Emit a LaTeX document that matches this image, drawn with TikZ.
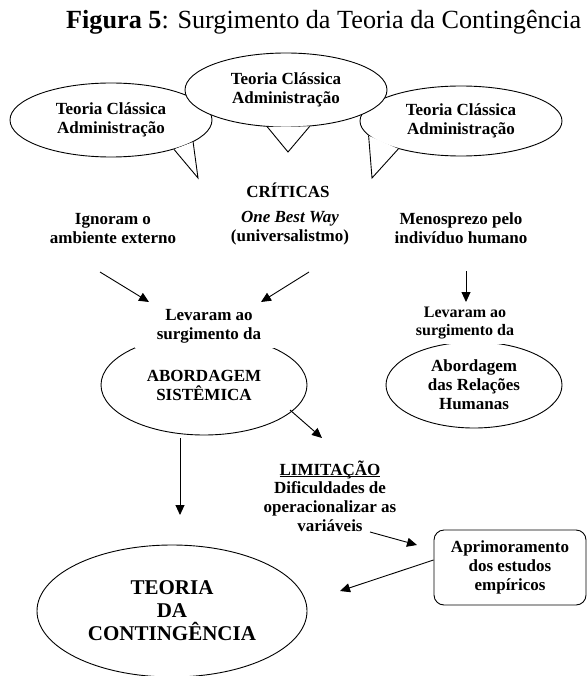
\documentclass[tikz,border=0pt]{standalone}
\usepackage{fontspec}
\setmainfont{Liberation Serif}
\usetikzlibrary{arrows.meta,shapes.geometric}
\newcommand\myul[1]{\setbox0\hbox{#1}\rlap{\rule[-2.2pt]{\wd0}{0.9pt}}\box0}
\begin{document}
\begin{tikzpicture}[x=1pt,y=-1pt,
  txt/.style={font=\fontsize{17}{19}\selectfont\bfseries, align=center, inner sep=0pt},
  oval/.style={ellipse, draw, fill=white, line width=0.9pt, inner sep=0pt, align=center,
               font=\fontsize{17}{19}\selectfont\bfseries},
  tailfill/.style={fill=white},
  tailline/.style={line width=0.9pt, line join=miter},
  arr/.style={-{Triangle[length=10pt,width=9pt]}, line width=0.9pt},
]
\fill[white] (0,0) rectangle (587,676);
\useasboundingbox (0,0) rectangle (587,676);

% title
\node[anchor=base west, inner sep=0pt, font=\fontsize{26.2}{30}\selectfont] (title) at (66,29)
  {\textbf{Figura 5}: Surgimento da Teoria da Contingência};

% speech bubbles
\node[oval, minimum width=202, minimum height=74] (bl) at (111,120) {Teoria Clássica\\Administração};
\coordinate (tipl) at (198,178);
\fill[tailfill] (bl.-25) -- (tipl) -- (bl.-15) -- cycle;
\draw[tailline] (bl.-25) -- (tipl) -- (bl.-15);

\node[oval, minimum width=202, minimum height=70] (br) at (461,121) {Teoria Clássica\\Administração};
\coordinate (tipr) at (372,178);
\fill[tailfill] (br.-156) -- (tipr) -- (br.-171) -- cycle;
\draw[tailline] (br.-156) -- (tipr) -- (br.-171);

\node[oval, minimum width=202, minimum height=74] (bm) at (286,90) {Teoria Clássica\\Administração};
\coordinate (tipm) at (288,152);
\fill[tailfill] (bm.-117) -- (tipm) -- (bm.-57) -- cycle;
\draw[tailline] (bm.-117) -- (tipm) -- (bm.-57);

% criticas
\node[txt, anchor=base] (crit) at (288,197) {CRÍTICAS};
\node[txt] (ign) at (113,228.5) {Ignoram o\\ambiente externo};
\node[txt] (obw) at (290,228.5) {\textit{One Best Way}\\(universalistmo)};
\node[txt] (men) at (461,228.5) {Menosprezo pelo\\indivíduo humano};

% arrows to second level
\coordinate (a1s) at (100,272); \coordinate (a1e) at (149,302);
\coordinate (a2s) at (309,272); \coordinate (a2e) at (261,302);
\coordinate (a3s) at (466,271); \coordinate (a3e) at (466,302);
\draw[arr] (a1s) -- (a1e);
\draw[arr] (a2s) -- (a2e);
\draw[arr] (a3s) -- (a3e);

% abordagem sistemica
\node[oval, minimum width=206, minimum height=100] (abs) at (204,385) {ABORDAGEM\\SISTÊMICA};
\node[txt, fill=white, inner xsep=22pt, inner ysep=5pt] (lev1) at (209,326) {Levaram ao\\surgimento da};

% relacoes humanas
\node[oval, minimum width=176, minimum height=86] (rh) at (474,385) {Abordagem\\das Relações\\Humanas};
\node[txt, fill=white, inner xsep=3pt, inner ysep=5pt, font=\fontsize{16}{18}\selectfont\bfseries] (lev2) at (465,323) {Levaram ao\\surgimento da};

% limitacao
\node[txt, font=\fontsize{17}{18.7}\selectfont\bfseries] (lim) at (330,496)
  {\myul{LIMITAÇÃO}\\Dificuldades de\\operacionalizar as\\variáveis};

% aprimoramento box
\node[draw, line width=0.9pt, rounded corners=10pt, minimum width=152, minimum height=75,
      txt, inner sep=0pt] (apr) at (510,567.5) {Aprimoramento\\dos estudos\\empíricos};

% teoria da contingencia
\node[oval, minimum width=270, minimum height=132,
      font=\fontsize{21}{23}\selectfont\bfseries] (tc) at (172,611) {TEORIA\\DA\\CONTINGÊNCIA};

% remaining arrows
\coordinate (a4s) at (290,410); \coordinate (a4e) at (322,438);
\coordinate (a5s) at (180,438); \coordinate (a5e) at (180,515);
\coordinate (a6s) at (370,532); \coordinate (a6e) at (417,545);
\coordinate (a7e) at (340,591);
\draw[arr] (a4s) -- (a4e);
\draw[arr] (a5s) -- (a5e);
\draw[arr] (a6s) -- (a6e);
\draw[arr] ([yshift=7.5pt]apr.west) -- (a7e);
\end{tikzpicture}
\end{document}
